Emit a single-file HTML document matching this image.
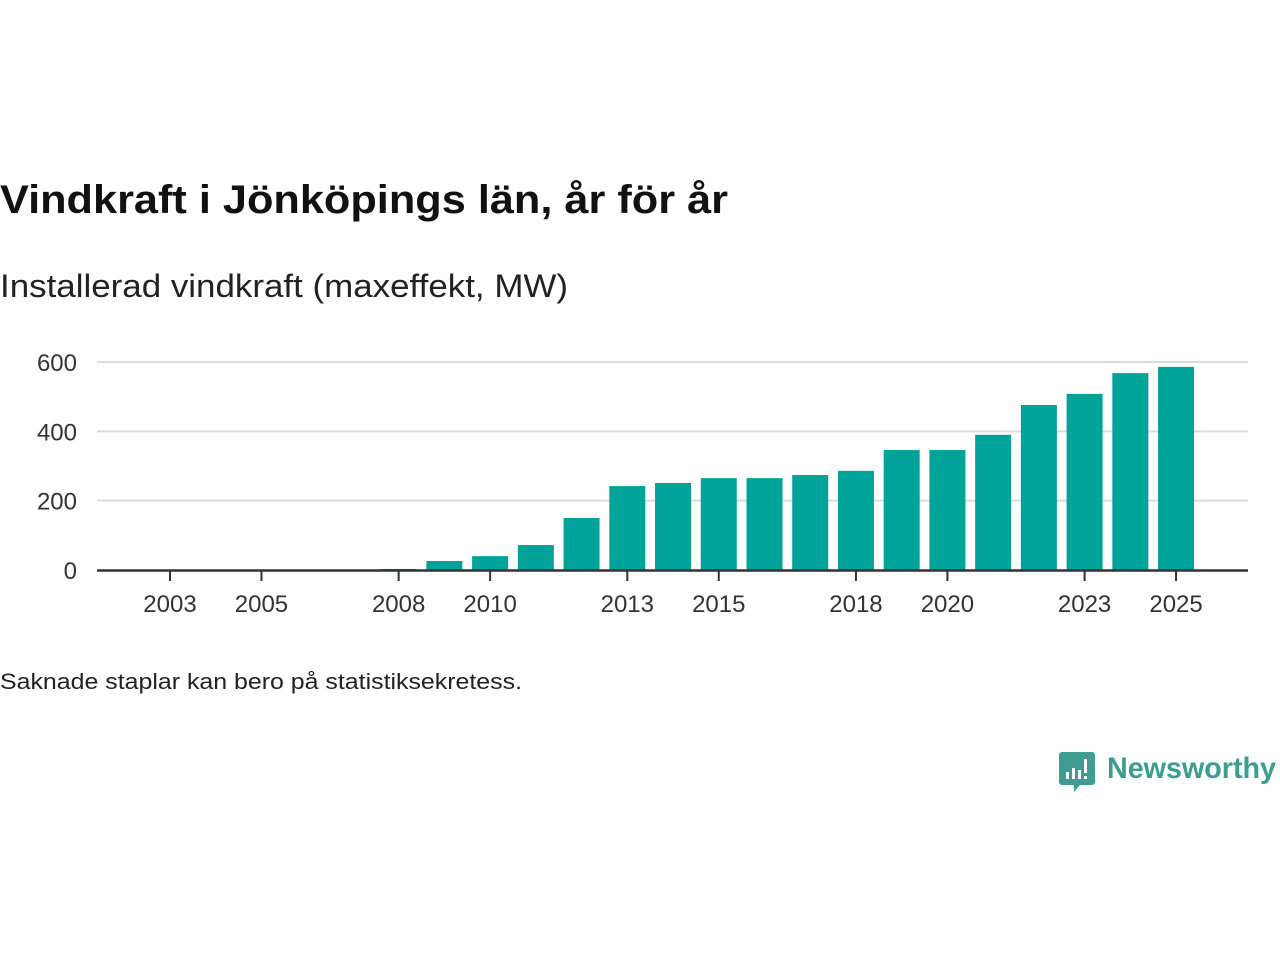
<!DOCTYPE html>
<html><head><meta charset="utf-8"><style>
html,body{margin:0;padding:0;background:#fff;}
svg{display:block;font-family:"Liberation Sans","DejaVu Sans",sans-serif;}
</style></head><body>
<svg id="chart" width="1280" height="960" viewBox="0 0 1280 960">
<text x="0" y="213" font-size="40" font-weight="bold" fill="#111" textLength="728" lengthAdjust="spacingAndGlyphs">Vindkraft i Jönköpings län, år för år</text>
<text x="0" y="297" font-size="32" fill="#222" textLength="568" lengthAdjust="spacingAndGlyphs">Installerad vindkraft (maxeffekt, MW)</text>
<g id="grid"></g>
<g id="bars"></g>
<g id="xaxis"></g>
<text x="0" y="689" font-size="22" fill="#222" textLength="522" lengthAdjust="spacingAndGlyphs">Saknade staplar kan bero på statistiksekretess.</text>
<g>
<path d="M1062 752 h30 a3 3 0 0 1 3 3 v27 a3 3 0 0 1 -3 3 h-12 l-6 7 v-7 h-12 a3 3 0 0 1 -3 -3 v-27 a3 3 0 0 1 3 -3z" fill="#3e9d90"/>
<rect x="1066" y="772" width="3" height="7" fill="#fff"/><rect x="1072" y="768" width="3" height="11" fill="#fff"/><rect x="1078" y="770" width="3" height="9" fill="#fff"/><rect x="1084" y="759" width="3" height="14" fill="#fff"/><rect x="1084" y="776" width="3" height="3" fill="#fff"/>
<text x="1107" y="778" font-size="30" font-weight="bold" fill="#3e9d90" textLength="169" lengthAdjust="spacingAndGlyphs">Newsworthy</text>
</g>
</svg>
<script>
const years=[2003,2004,2005,2006,2007,2008,2009,2010,2011,2012,2013,2014,2015,2016,2017,2018,2019,2020,2021,2022,2023,2024,2025];
const values=[0,0,0,0,0,3,26,40,72,150,242,251,265,265,274,286,346,346,390,476,508,568,586];
const yTicks=[0,200,400,600];
const xTickYears=[2003,2005,2008,2010,2013,2015,2018,2020,2023,2025];
const NS='http://www.w3.org/2000/svg';
const x=y=>170+(y-2003)*45.73;
const yS=v=>570-v*(208/600);
function mk(t,a,p){const e=document.createElementNS(NS,t);for(const k in a)e.setAttribute(k,a[k]);p.appendChild(e);return e;}
const grid=document.getElementById('grid'),bars=document.getElementById('bars'),xa=document.getElementById('xaxis');
yTicks.forEach(v=>{
 if(v>0){const l=mk('line',{x1:97,x2:1248,y1:yS(v),y2:yS(v),stroke:'#dcdcdc','stroke-width':2},grid);
 
 }
 const t=mk('text',{x:77,y:yS(v)+9,'font-size':24,fill:'#333','text-anchor':'end'},grid);t.textContent=v;
 
 
});
years.forEach((yr,i)=>{
 if(values[i]<=0)return;
 const r=mk('rect',{x:x(yr)-18,width:36,y:yS(values[i]),height:570-yS(values[i]),fill:'#00a39a'},bars);
 
 
});
const ax=mk('line',{x1:97,x2:1248,y1:570.5,y2:570.5,stroke:'#333','stroke-width':2.5},xa);


xTickYears.forEach(yr=>{
 const l=mk('line',{x1:x(yr),x2:x(yr),y1:570,y2:581,stroke:'#333','stroke-width':2},xa);
 
 
 const t=mk('text',{x:x(yr),y:612,'font-size':24,fill:'#333','text-anchor':'middle'},xa);t.textContent=yr;
 
 
});
</script>
</body></html>
